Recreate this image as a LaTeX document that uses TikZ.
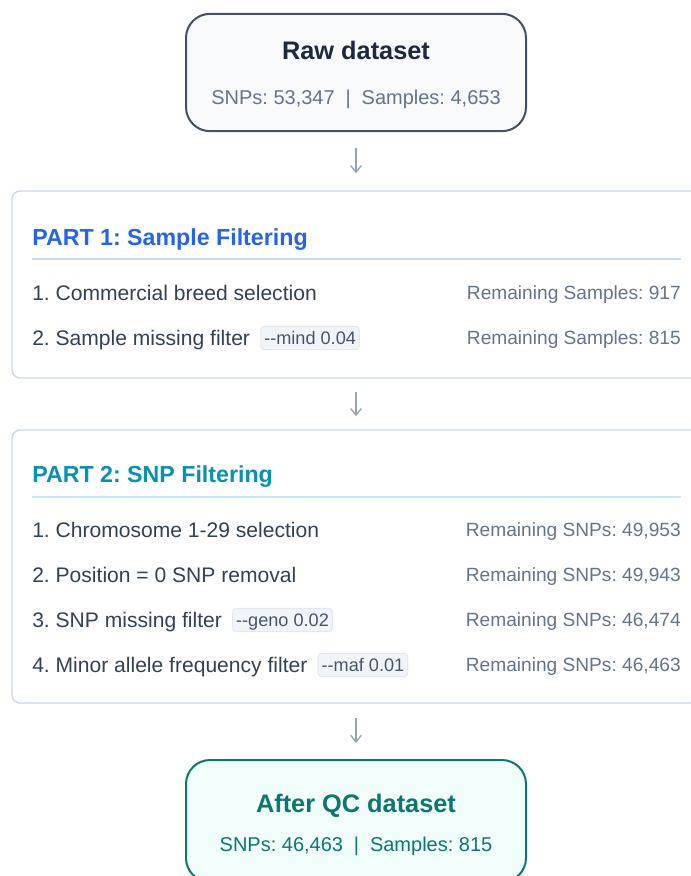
\documentclass[tikz,border=0pt]{standalone}
\usepackage{fontspec}
\setmainfont{Liberation Sans}
\usetikzlibrary{positioning,arrows.meta}

\definecolor{rawline}{HTML}{434F62}
\definecolor{rawfill}{HTML}{F8FAFC}
\definecolor{ink}{HTML}{1E293B}
\definecolor{rowink}{HTML}{334155}
\definecolor{tagink}{HTML}{475569}
\definecolor{muted}{HTML}{64748B}
\definecolor{panelline}{HTML}{CFD8E3}
\definecolor{blueone}{HTML}{2563EB}
\definecolor{ruleone}{HTML}{BFDBFE}
\definecolor{cyantwo}{HTML}{0891B2}
\definecolor{ruletwo}{HTML}{C6E8F0}
\definecolor{tagfill}{HTML}{F1F5F9}
\definecolor{tagline}{HTML}{E2E8F0}
\definecolor{arrowgray}{HTML}{94A3B8}
\definecolor{qcline}{HTML}{0F766E}
\definecolor{qcfill}{HTML}{F0FDFA}

\newcommand{\barsep}{\hspace{4pt}\ |\ \hspace{4pt}}

\tikzset{
  box/.style={draw, line width=1.5pt, rounded corners=18pt, minimum width=255pt, inner sep=0pt},
  panel/.style={draw=panelline, fill=white, line width=1.1pt, rounded corners=6pt,
    minimum width=516pt, inner sep=0pt},
  boxtitle/.style={inner sep=0pt, font=\fontsize{19pt}{22pt}\selectfont\bfseries,
    text height=13.6pt, text depth=0pt},
  boxsub/.style={inner sep=0pt, font=\fontsize{15pt}{18pt}\selectfont,
    text height=10.7pt, text depth=0pt},
  parttitle/.style={anchor=west, inner sep=0pt, font=\fontsize{17.4pt}{20pt}\selectfont\bfseries,
    text height=12.4pt, text depth=0pt},
  row/.style={anchor=west, inner sep=0pt, text=rowink, font=\fontsize{15.8pt}{19pt}\selectfont,
    text height=11.3pt, text depth=0pt},
  count/.style={anchor=east, inner sep=0pt, text=muted, font=\fontsize{14.35pt}{17pt}\selectfont,
    text height=10.2pt, text depth=0pt},
  tag/.style={draw=tagline, fill=tagfill, line width=0.75pt, rounded corners=2.5pt,
    text=tagink, font=\fontsize{13.6pt}{16pt}\selectfont, text height=9.7pt, text depth=0pt,
    inner xsep=2.6pt, inner ysep=3.8pt},
  flow/.style={draw=arrowgray, line width=1pt, -{Straight Barb[length=5pt,width=8pt]}}
}

\begin{document}
\frenchspacing
\begin{tikzpicture}[x=0.75pt,y=-0.75pt]
\useasboundingbox (0,0) rectangle (691,876);
\clip (0,0) rectangle (691,876);

% input and output data
\node[box, draw=rawline, fill=rawfill, minimum height=88pt] (raw) at (356,72.5) {};
\node[boxtitle, text=ink] (rawtitle) at (356,50.5) {Raw dataset};
\node[boxsub, text=muted] (rawsub) at (356,97) {SNPs: 53,347\barsep Samples: 4,653};

\node[box, draw=qcline, fill=qcfill, minimum height=91.5pt] (qc) at (356,821) {};
\node[boxtitle, text=qcline] (qctitle) at (356,803.5) {After QC dataset};
\node[boxsub, text=qcline] (qcsub) at (356,844) {SNPs: 46,463\barsep Samples: 815};

% part 1
\node[panel, minimum height=140.25pt] (partone) at (356,284.5) {};
\node[parttitle, text=blueone] (titleone) at (32,237) {PART 1: Sample Filtering};
\draw[ruleone, line width=1.1pt] (32,259) -- (681,259);
\node[row] (smp1) at (32,293) {1. Commercial breed selection};
\node[count] (smpn1) at (681,293) {Remaining Samples: 917};
\node[row] (smp2) at (32,338) {2. Sample missing filter};
\node[count] (smpn2) at (681,338) {Remaining Samples: 815};
\node[tag, right=7.5pt of smp2] (mindtag) {-\kern0pt-mind 0.04};

% part 2
\node[panel, minimum height=204.75pt] (parttwo) at (356,566.5) {};
\node[parttitle, text=cyantwo] (titletwo) at (32,474) {PART 2: SNP Filtering};
\draw[ruletwo, line width=1.1pt] (32,497) -- (681,497);
\foreach \i/\y/\txt/\n in {1/530/{1. Chromosome 1-29 selection}/{49,953},
                           2/575/{2. Position = 0 SNP removal}/{49,943},
                           3/620/{3. SNP missing filter}/{46,474},
                           4/665/{4. Minor allele frequency filter}/{46,463}}
{
  \node[row] (snp\i) at (32,\y) {\txt};
  \node[count] (snpn\i) at (681,\y) {Remaining SNPs: \n};
}
\node[tag, right=7.5pt of snp3] (genotag) {-\kern0pt-geno 0.02};
\node[tag, right=7.5pt of snp4] (maftag) {-\kern0pt-maf 0.01};

% flow
\draw[flow, shorten <=11.6pt, shorten >=12.75pt] (raw.south) -- (partone.north);
\draw[flow, shorten <=9.75pt, shorten >=9.75pt] (partone.south) -- (parttwo.north);
\draw[flow, shorten <=10.5pt, shorten >=12pt] (parttwo.south) -- (qc.north);
\end{tikzpicture}
\end{document}
